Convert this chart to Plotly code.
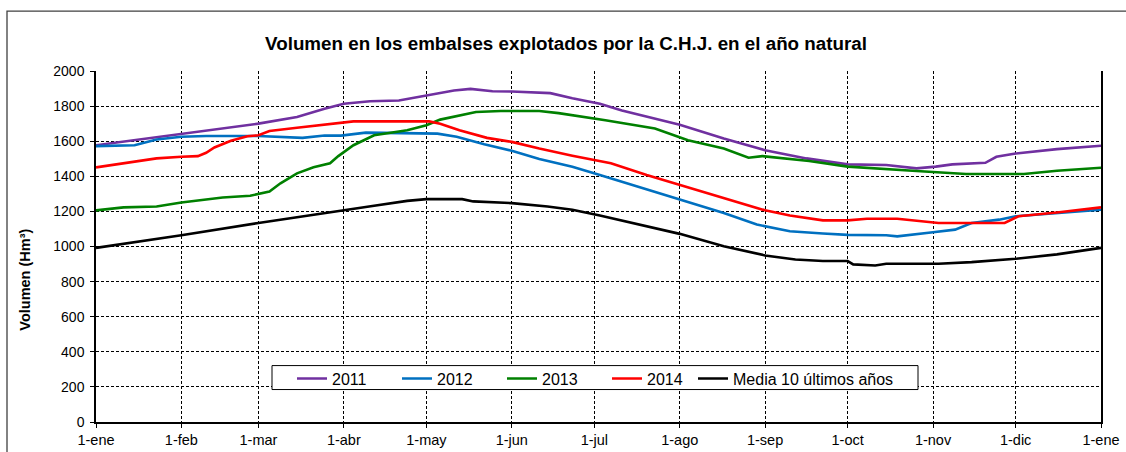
import plotly.graph_objects as go

# Month tick positions (day of year) and labels
month_days = [0, 31, 59, 90, 120, 151, 181, 212, 243, 273, 304, 334, 365]
month_labels = ["1-ene", "1-feb", "1-mar", "1-abr", "1-may", "1-jun", "1-jul",
                "1-ago", "1-sep", "1-oct", "1-nov", "1-dic", "1-ene"]

# 2011
d2011 = [0, 31, 59, 73, 83, 90, 99.5, 110, 120, 130, 136, 144, 151, 156, 165, 173, 183,
         191, 212, 228, 243, 258, 273, 287, 298, 305, 311, 323, 327, 334, 349, 365]
v2011 = [1577, 1643, 1700, 1738, 1785, 1813, 1828, 1832, 1860, 1889, 1898, 1885, 1883, 1879,
         1874, 1845, 1813, 1775, 1694, 1615, 1549, 1502, 1468, 1464, 1445, 1455, 1468, 1477,
         1511, 1530, 1555, 1574]

# 2012
d2012 = [0, 14, 22, 31, 40, 59, 75, 83, 89, 98, 124, 131, 141, 151, 161, 173, 183, 191,
         212, 228, 240, 252, 264, 273, 287, 291, 304, 312, 318, 328, 334, 349, 365]
v2012 = [1572, 1577, 1610, 1625, 1630, 1630, 1619, 1632, 1632, 1649, 1643, 1625, 1583, 1545,
         1498, 1455, 1408, 1370, 1266, 1191, 1125, 1087, 1074, 1066, 1064, 1058, 1081, 1096,
         1134, 1153, 1172, 1191, 1209]

# 2013
d2013 = [0, 10, 22, 31, 46, 56, 63, 67, 73, 79, 85, 88, 93.5, 101, 113, 120, 125, 132,
         138, 147, 161, 168, 180, 185, 203, 215, 228, 237, 242, 249, 259, 273, 282, 298,
         316, 337, 349, 365]
v2013 = [1206, 1223, 1228, 1251, 1279, 1289, 1313, 1360, 1417, 1451, 1474, 1515, 1577, 1634,
         1662, 1691, 1723, 1747, 1766, 1772, 1772, 1760, 1728, 1719, 1672, 1606, 1558, 1506,
         1515, 1502, 1487, 1455, 1445, 1430, 1413, 1413, 1432, 1449]

# 2014
d2014 = [0, 10, 22, 31, 37, 40, 43, 49, 55, 59, 63, 73, 83, 90, 93.5, 121, 125, 132, 142,
         151, 161, 173, 183, 187, 200, 212, 228, 243, 252, 264, 273, 280, 291, 299, 306,
         330, 335, 349, 365]
v2014 = [1451, 1474, 1502, 1511, 1515, 1534, 1564, 1602, 1628, 1634, 1658, 1677, 1694, 1704,
         1713, 1713, 1700, 1662, 1619, 1596, 1558, 1517, 1489, 1474, 1408, 1351, 1275, 1206,
         1177, 1149, 1149, 1158, 1158, 1143, 1134, 1134, 1172, 1194, 1223]

# Media 10 últimos años
dmedia = [0, 31, 59, 90, 101, 113, 120, 133, 137, 151, 164, 173, 183, 212, 228, 243, 254,
          264, 273, 275, 283, 287, 306, 318, 334, 349, 365]
vmedia = [992, 1064, 1134, 1209, 1232, 1260, 1270, 1270, 1257, 1247, 1228, 1209, 1177, 1072,
          1002, 949, 926, 917, 917, 898, 892, 902, 902, 911, 930, 955, 992]

series = [
    ("2011", d2011, v2011, "#7030A0", "legend"),
    ("2012", d2012, v2012, "#0070C0", "legend"),
    ("2013", d2013, v2013, "#008000", "legend"),
    ("2014", d2014, v2014, "#FF0000", "legend"),
    ("Media 10 últimos años", dmedia, vmedia, "#000000", "legend2"),
]

FONT = "Arial, Liberation Sans, sans-serif"

fig = go.Figure()
for name, d, v, c, lg in series:
    fig.add_trace(go.Scatter(x=d, y=v, mode="lines", name=name, legend=lg,
                             line=dict(color=c, width=2.6)))

W, H = 1126, 452
L, R, T, B = 96, 25, 71, 29.5
pw, ph = W - L - R, H - T - B


def px_x(p):
    return (p - L) / pw


def px_y(p):
    return (H - B - p) / ph


legend_font = dict(size=16, family=FONT, color="black")
LEG_Y = 379

fig.update_layout(
    width=W, height=H,
    margin=dict(l=L, r=R, t=T, b=B, autoexpand=False),
    paper_bgcolor="white", plot_bgcolor="white",
    font=dict(family=FONT, color="black"),
    title=dict(text="<b>Volumen en los embalses explotados por la C.H.J. en el año natural</b>",
               x=566 / W, xanchor="center", xref="container",
               y=1 - 43 / H, yanchor="middle", yref="container",
               font=dict(size=18.8, family=FONT, color="black")),
    showlegend=True,
    legend=dict(orientation="h", x=px_x(292), xanchor="left", y=px_y(LEG_Y), yanchor="middle",
                bgcolor="rgba(0,0,0,0)", borderwidth=0, font=legend_font,
                entrywidth=60, entrywidthmode="pixels", itemwidth=30),
    legend2=dict(orientation="h", x=px_x(693), xanchor="left", y=px_y(LEG_Y), yanchor="middle",
                 bgcolor="rgba(0,0,0,0)", borderwidth=0, font=legend_font, itemwidth=30),
    xaxis=dict(range=[0, 365], tickmode="array", tickvals=month_days, ticktext=month_labels,
               automargin=False,
               showgrid=True, gridcolor="black", gridwidth=1, griddash="3px,2px",
               showline=True, linecolor="black", linewidth=1.5, mirror=False,
               ticks="outside", ticklen=4, tickcolor="black", ticklabelstandoff=0,
               tickfont=dict(size=14.5, family=FONT, color="black"), zeroline=False),
    yaxis=dict(range=[0, 2000], tickmode="array", tickvals=list(range(0, 2001, 200)),
               automargin=False,
               showgrid=True, gridcolor="black", gridwidth=1, griddash="3px,2px",
               showline=True, linecolor="black", linewidth=1.5, mirror=True,
               ticks="outside", ticklen=4, tickcolor="black", ticklabelstandoff=3,
               tickfont=dict(size=14, family=FONT, color="black"), zeroline=False),
    shapes=[
        # outer chart frame (extends beyond the visible image at right/bottom)
        dict(type="rect", xref="paper", yref="paper",
             x0=px_x(7), x1=px_x(1140), y0=px_y(470), y1=px_y(11),
             line=dict(color="#404040", width=1.3), fillcolor="rgba(0,0,0,0)", layer="below"),
        # legend box
        dict(type="rect", xref="paper", yref="paper",
             x0=px_x(272), x1=px_x(918), y0=px_y(390), y1=px_y(366),
             line=dict(color="black", width=1), fillcolor="white", layer="above"),
    ],
    annotations=[
        dict(text="<b>Volumen (Hm³)</b>", textangle=-90, xref="paper", yref="paper",
             x=px_x(25), y=px_y(280), xanchor="center", yanchor="middle", showarrow=False,
             font=dict(size=14.5, family=FONT, color="black")),
    ],
)

fig.write_html("out.html", config={"displayModeBar": False},
               post_script="document.body.style.margin='0';")
